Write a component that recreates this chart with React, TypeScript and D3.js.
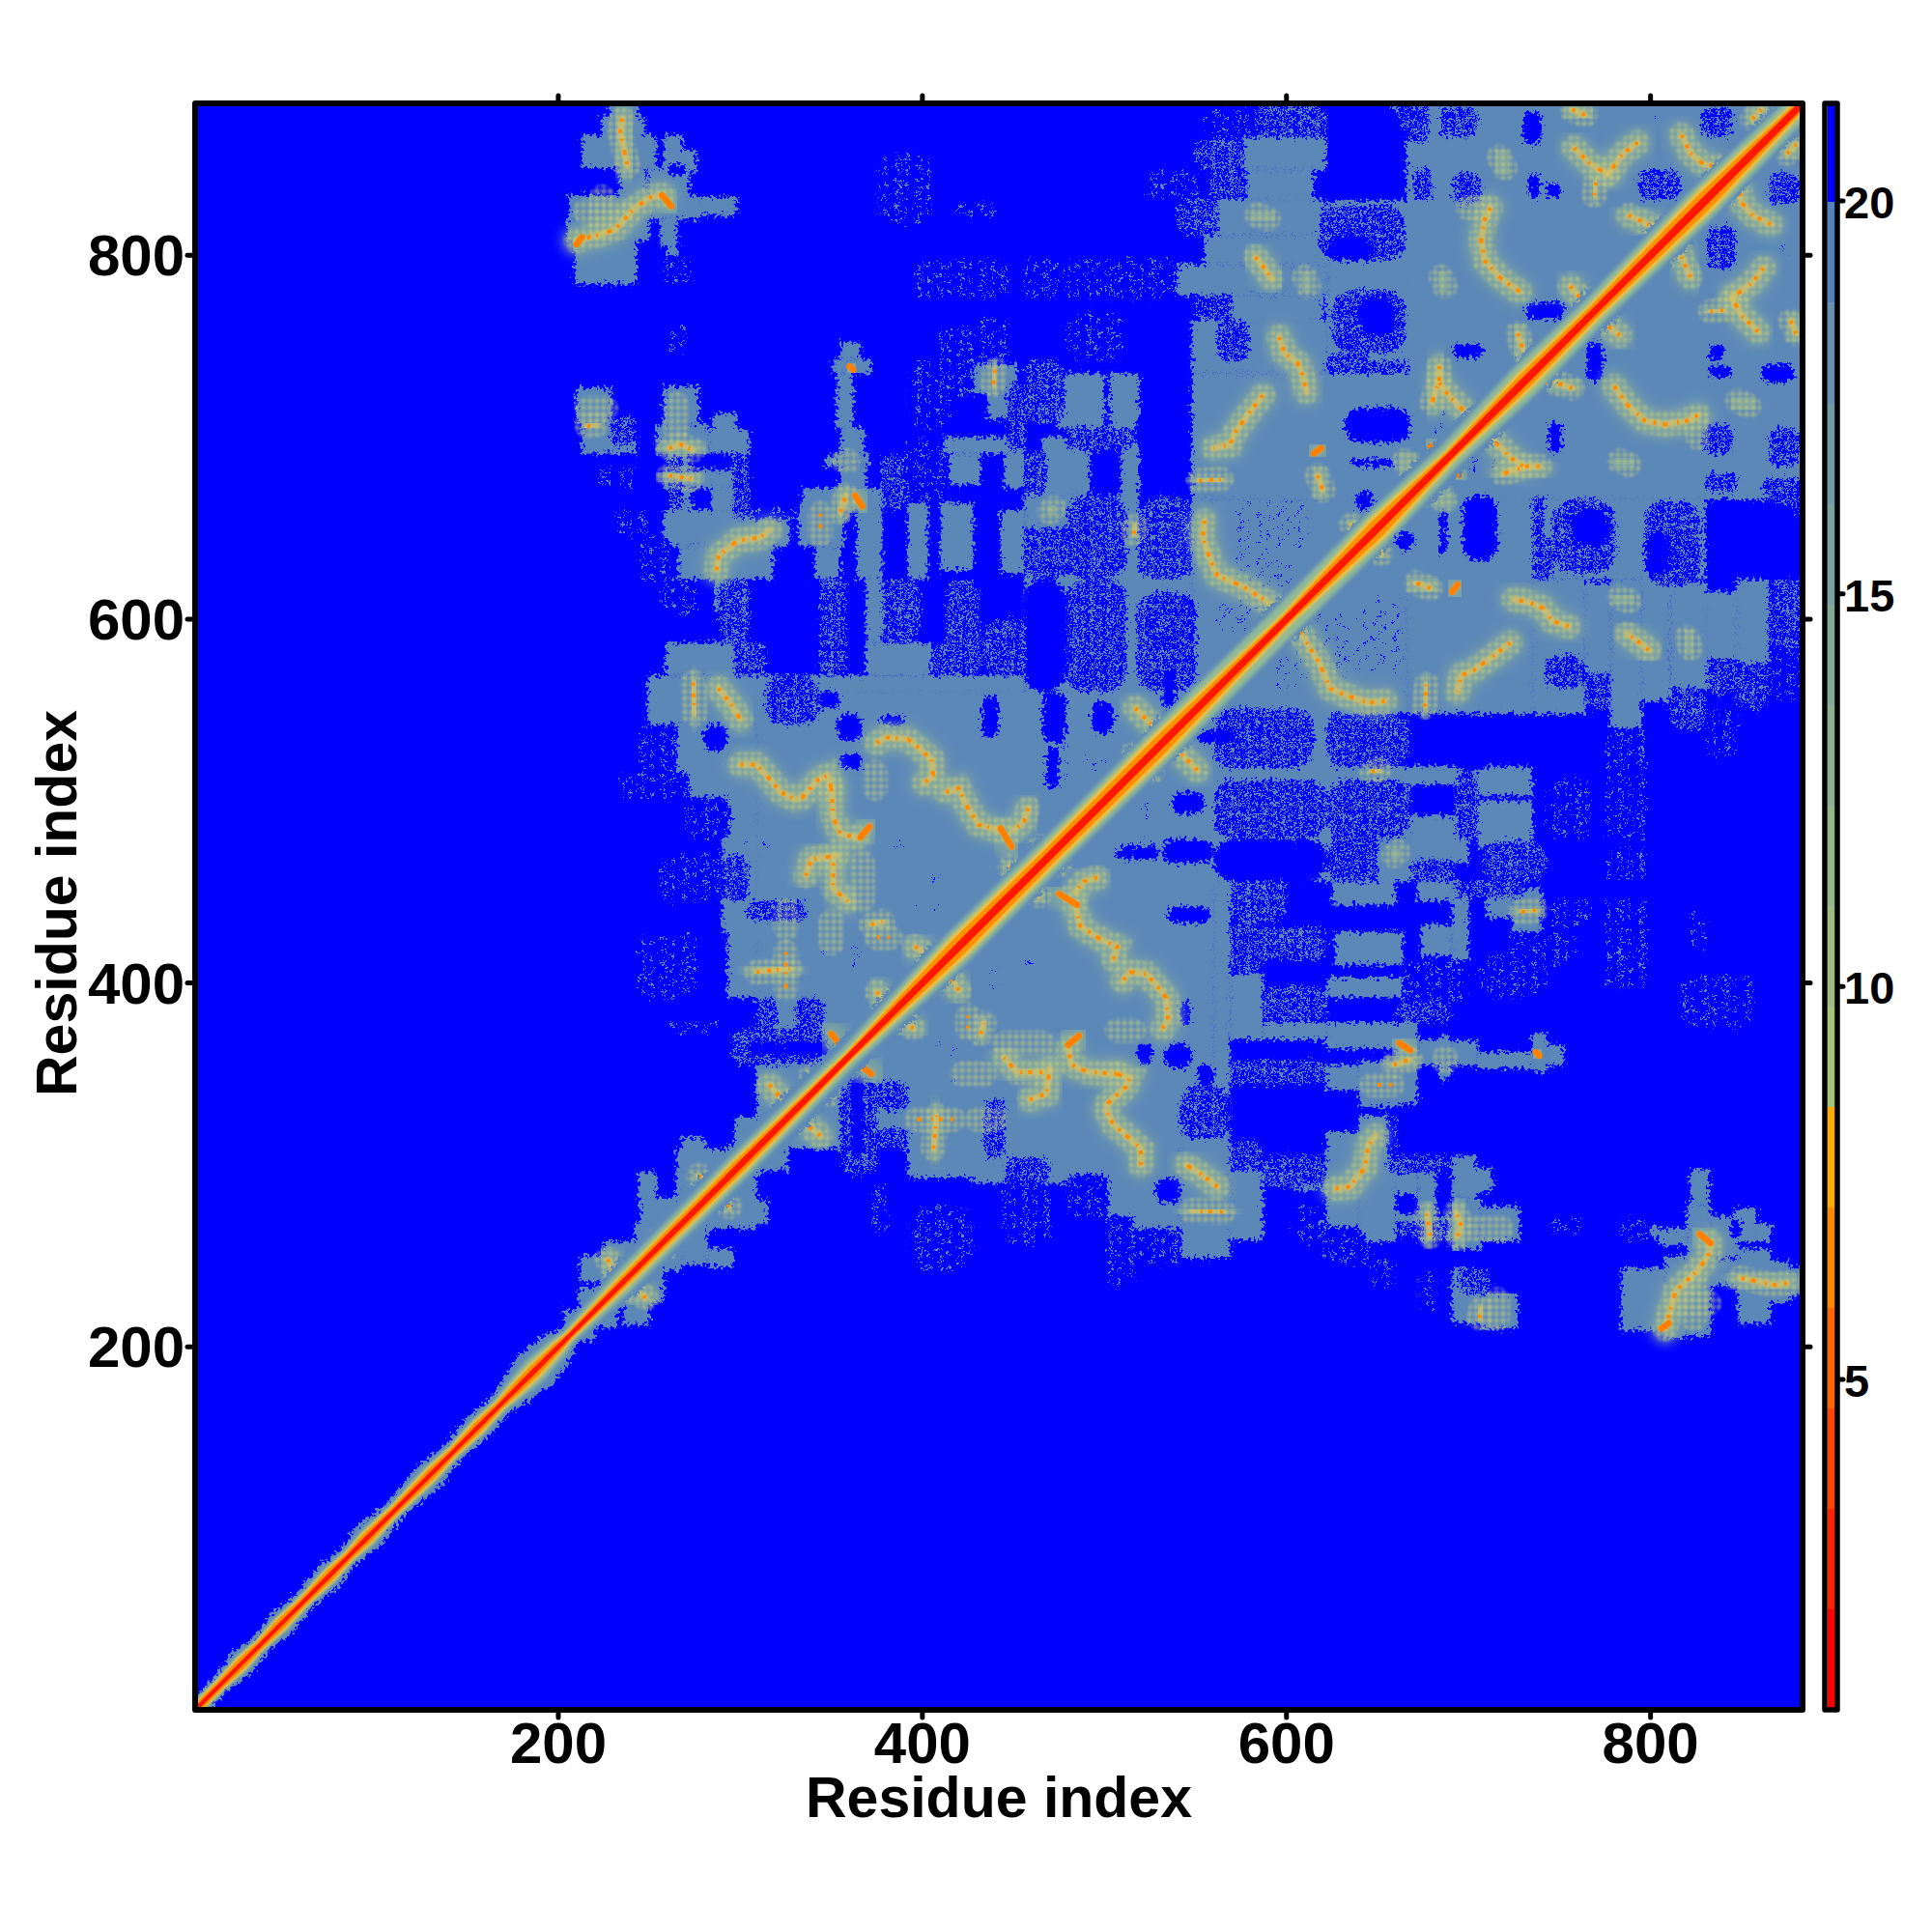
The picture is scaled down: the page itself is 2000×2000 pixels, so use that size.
import React from "react";
import * as d3 from "d3";

// ---------- values (residue coordinates, upper-left triangle; the map is symmetric) ----------
const axisTicks = [200, 400, 600, 800];
const colorbarTicks = [5, 10, 15, 20];
const colorbarBreaks = [0.8, 2.08, 3.36, 4.64, 5.92, 7.2, 8.47, 9.75, 11.03, 12.31, 13.59, 14.87, 16.15, 17.43, 18.71, 19.99, 21.24];
const colorbarColors = ["#ff0000", "#ff2200", "#ff4400", "#ff6600", "#ff8800", "#ffaa00", "#a5c27a", "#9dbc81", "#95b689", "#8caf90", "#83a898", "#7aa1a0", "#709aa8", "#668fb0", "#5282bd", "#0000ff"];

// [residue, steel, green, orange, red] : band size of the diagonal, as |x-y| in residues
const diagonalProfile = [
  [1, 7, 5.5, 3.2, 1.6], [15, 7, 5.5, 3.2, 1.6], [26, 11, 6.5, 4.2, 1.6], [36, 7.5, 5.5, 3.2, 1.6], [48, 11, 6.5, 4.2, 1.6], [60, 8, 5.5, 3.2, 1.6],
  [75, 11, 6.5, 4.2, 1.8], [85, 8, 5.5, 3.2, 1.6], [95, 12, 7, 4.2, 1.8], [110, 8, 5.5, 3.2, 1.6], [130, 12, 7, 4.2, 1.8], [142, 8, 5.5, 3.2, 1.6],
  [156, 11, 7, 4.2, 1.8], [168, 9, 6, 3.2, 1.6], [176, 13, 8, 4.2, 1.8], [187, 17, 10, 4.8, 2], [200, 14, 8, 3.8, 1.8], [206, 8, 5.5, 2.8, 1.6],
  [216, 10, 7, 3.2, 1.8], [235, 14, 9, 4, 2], [300, 16, 10, 5, 2.5], [360, 14, 8, 3.2, 2.2], [420, 16, 13, 7, 3], [470, 16, 12, 6, 3],
  [530, 16, 13, 7, 3], [600, 16, 12, 4, 2.6], [650, 16, 13, 7, 3], [690, 16, 10, 4, 2.6], [730, 16, 13, 6, 3], [770, 16, 11, 5, 2.6],
  [830, 16, 13, 7, 3.2], [883, 14, 10, 4, 2.6],
];

const steelRects = [
  [228, 244, 876, 884], [224, 247, 866, 876], [213, 254, 848, 866], [258, 276, 846, 858], [258, 268, 858, 866], [233, 248, 833, 848], [249, 272, 833, 848],
  [206, 278, 820, 833], [278, 298, 822, 832], [205, 250, 808, 820], [256, 265, 805, 820], [209, 243, 784, 808], [260, 266, 795, 805],
  [351, 372, 735, 743], [355, 366, 743, 752], [353, 362, 705, 735], [210, 229, 707, 727], [213, 243, 691, 707], [258, 277, 707, 728], [254, 282, 691, 707],
  [282, 305, 691, 704], [285, 298, 703, 713], [260, 272, 682, 691], [258, 305, 672, 682], [262, 273, 660, 672], [284, 296, 660, 672],
  [355, 368, 690, 705], [347, 371, 684, 690], [355, 369, 672, 684], [412, 456, 691, 700], [415, 432, 674, 691], [445, 456, 672, 691],
  [392, 403, 622, 664], [410, 428, 627, 664], [443, 456, 625, 660], [422, 452, 724, 740], [436, 447, 710, 724],
  [258, 327, 640, 660], [332, 357, 640, 662], [364, 378, 622, 668], [266, 318, 622, 640], [341, 355, 622, 640], [334, 378, 660, 672],
  [576, 622, 847, 865], [578, 615, 831, 847], [562, 620, 811, 831], [555, 622, 795, 811], [540, 622, 778, 795], [570, 620, 764, 778], [548, 622, 735, 764],
  [666, 885, 666, 885], [622, 666, 666, 830], [548, 666, 666, 735], [548, 666, 548, 666],
  [474, 500, 705, 735], [503, 519, 700, 735], [466, 492, 668, 700], [509, 519, 622, 700], [456, 470, 650, 672], [468, 508, 650, 668], [456, 548, 530, 625],
  [480, 560, 480, 560], [309, 560, 309, 560], [293, 309, 392, 542], [288, 309, 502, 516], [314, 456, 560, 569], [249, 314, 542, 569], [272, 293, 502, 542],
  [265, 279, 516, 542], [259, 297, 569, 587], [369, 405, 569, 587], [369, 378, 587, 622], [286, 300, 604, 625], [290, 309, 427, 480],
  [297, 309, 309, 326], [265, 309, 296, 309], [268, 281, 300, 315], [265, 296, 265, 296], [245, 268, 268, 282], [245, 265, 245, 268], [244, 254, 282, 296],
  [212, 225, 236, 250], [225, 250, 226, 258], [211, 232, 212, 232], [206, 220, 203, 216], [242, 262, 254, 268],
];

// areas that are mostly blue, with a few steel flecks
const sparseRects = [
  [258, 272, 784, 800], [376, 405, 817, 856], [417, 440, 822, 830], [396, 447, 776, 797], [410, 428, 720, 760], [392, 415, 705, 742], [390, 412, 664, 700],
  [430, 447, 740, 767], [218, 242, 672, 683], [232, 250, 645, 660], [245, 262, 620, 645], [262, 270, 745, 762], [305, 330, 655, 662],
  [555, 583, 866, 882], [523, 551, 831, 847], [479, 540, 775, 799], [456, 474, 775, 799], [480, 512, 742, 768], [258, 277, 602, 622],
  [245, 265, 516, 542], [235, 272, 502, 516], [256, 290, 445, 470], [241, 277, 392, 427], [262, 290, 372, 380], [270, 295, 480, 502],
];

// areas of about half blue, half steel
const mixedRects = [
  [229, 243, 695, 712], [261, 269, 660, 690], [296, 305, 655, 690], [378, 390, 660, 690], [447, 456, 693, 730], [583, 622, 866, 883], [649, 666, 866, 882],
  [558, 578, 831, 847], [550, 576, 847, 865], [540, 562, 811, 831], [550, 570, 764, 778], [562, 580, 742, 764], [456, 478, 708, 742], [479, 516, 693, 705],
  [456, 468, 668, 693], [456, 479, 622, 650], [479, 512, 622, 668], [520, 548, 622, 668], [288, 305, 587, 622], [344, 358, 569, 622], [378, 398, 587, 622],
  [413, 431, 569, 622], [297, 314, 569, 587], [406, 433, 569, 587], [314, 343, 542, 569], [304, 336, 434, 445], [295, 348, 355, 375], [433, 470, 569, 600],
  [290, 304, 445, 470], [309, 320, 374, 392], [330, 346, 374, 392], [618, 665, 797, 827], [625, 666, 746, 781], [622, 645, 735, 746], [640, 667, 735, 742],
  [666, 678, 862, 885], [670, 680, 830, 848], [684, 705, 865, 882], [691, 707, 829, 845], [828, 845, 865, 882], [793, 816, 831, 847], [479, 512, 560, 622], [518, 551, 560, 615],
];

// areas that are mostly steel, with a few blue flecks
const fleckRects = [
  [562, 580, 593, 609], [594, 602, 617, 634], [571, 611, 640, 664], [470, 479, 510, 532], [489, 500, 517, 525], [344, 347, 409, 423], [358, 367, 409, 420],
  [392, 413, 438, 441], [406, 415, 454, 459], [385, 390, 473, 478], [296, 318, 475, 478], [800, 806, 872, 880], [682, 687, 700, 720], [600, 640, 570, 590],
];

const holeRects = [
  [224, 234, 834, 847], [260, 270, 844, 850], [622, 665, 830, 885], [730, 740, 861, 879], [731, 753, 765, 774], [632, 668, 697, 716], [638, 648, 660, 670],
  [636, 659, 684, 688], [692, 708, 744, 751], [733, 739, 832, 845], [742, 751, 832, 840], [516, 548, 693, 712], [493, 509, 668, 693], [456, 479, 560, 622],
  [466, 479, 532, 560], [493, 505, 537, 555], [532, 539, 551, 572], [279, 293, 528, 542], [343, 355, 551, 560], [353, 367, 533, 548], [377, 390, 542, 547],
  [433, 442, 535, 558], [355, 367, 518, 526], [468, 475, 507, 530], [305, 325, 360, 368], [325, 348, 360, 368], [624, 647, 797, 811], [640, 660, 756, 778],
];

const faintContacts = [
  [[215, 824], [236, 824]], [[224, 815], [224, 832]], [[265, 718], [265, 704]], [[216, 716], [226, 716]], [[610, 788], [612, 783]], [[584, 822], [590, 820]],
  [[470, 659], [472, 661]], [[374, 516], [374, 507]], [[367, 466], [367, 445]], [[350, 434], [350, 422]], [[717, 854], [720, 848]], [[685, 788], [687, 783]],
  [[665, 687], [670, 679]], [[357, 687], [359, 687]], [[516, 526], [522, 522]], [[700, 826], [708, 826]], [[325, 430], [325, 440]],
];
const mediumContacts = [
  [[235, 875], [234, 868], [237, 854], [238, 849]], [[210, 808], [221, 811], [231, 814], [242, 826], [251, 832], [257, 833]], [[216, 706], [221, 707]],
  [[261, 694], [267, 696], [274, 693]], [[261, 679], [273, 677]], [[440, 737], [439, 729]], [[355, 659], [358, 668]], [[344, 658], [344, 647]],
  [[287, 627], [288, 635], [295, 640], [298, 643], [311, 645], [316, 649]], [[274, 565], [275, 548]], [[288, 562], [295, 553], [300, 545]],
  [[300, 520], [309, 520], [318, 510], [322, 505], [330, 501], [334, 502], [343, 512], [348, 514], [350, 507]], [[350, 507], [351, 491], [355, 482], [364, 480]],
  [[336, 459], [339, 468], [353, 470]], [[351, 466], [351, 452], [359, 445]], [[375, 532], [380, 535], [392, 534], [397, 530], [405, 523], [406, 514], [401, 510]],
  [[413, 505], [420, 507], [424, 498], [431, 487], [442, 484]], [[458, 496], [456, 489], [450, 484]], [[372, 432], [378, 434]], [[375, 425], [382, 425]],
  [[396, 420], [403, 415], [408, 409]], [[325, 417], [325, 408], [325, 397]], [[309, 406], [327, 408]], [[375, 395], [381, 388], [378, 381]],
  [[227, 248], [229, 245], [233, 236]], [[316, 344], [322, 337], [327, 330]], [[339, 349], [343, 344]], [[254, 259], [263, 262]], [[277, 294], [282, 292]],
  [[583, 799], [587, 794], [592, 787]], [[596, 755], [599, 746], [606, 741], [609, 734], [611, 725]], [[587, 723], [580, 714], [572, 703], [569, 696], [560, 694]],
  [[617, 679], [620, 671]], [[552, 676], [564, 677]], [[516, 647], [517, 651]], [[555, 654], [554, 645], [558, 633], [562, 624], [576, 618], [592, 608], [599, 602]],
  [[636, 652], [640, 647]], [[684, 739], [684, 732], [680, 719]], [[684, 730], [689, 723], [696, 716], [703, 709]], [[712, 826], [709, 820], [707, 808], [709, 797], [717, 788], [728, 780]],
  [[757, 880], [764, 877]], [[758, 859], [767, 850], [776, 845]], [[793, 862], [785, 856], [777, 845]], [[770, 840], [769, 833]], [[817, 866], [822, 856], [829, 850], [836, 849]],
  [[856, 875], [861, 880]], [[788, 822], [799, 817], [806, 815]], [[756, 783], [765, 772], [769, 769]], [[727, 757], [730, 748]], [[517, 551], [528, 540], [532, 537]],
  [[448, 464], [454, 459]], [[465, 475], [466, 469]],
];
const strongContacts = [
  [[360, 739], [362, 737]], [[363, 668], [367, 662]], [[443, 485], [449, 475]], [[366, 480], [371, 486]], [[350, 372], [358, 362]], [[615, 691], [619, 694]],
  [[679, 695], [683, 688]], [[806, 815], [810, 811]], [[730, 742], [736, 736]], [[257, 833], [262, 827]], [[210, 806], [213, 810]],
];

// ---------- layout ----------
const left = 202, right = 1866, top = 107, bottom = 1770;
const x = d3.scaleLinear().domain([0.5, 883.5]).range([left, right]);
const y = d3.scaleLinear().domain([0.5, 883.5]).range([bottom, top]);
const barY = d3.scaleLinear().domain([5, 20]).range([1428, 208]);
const STEEL = "#5c88b8";
const BLUE = "#0000ff";
const FONT = "'Liberation Sans', Arial, sans-serif";
const line = d3.line<number[]>().x((d) => x(d[0])).y((d) => y(d[1]));

function band(col: number, k = 1): string {
  const a = diagonalProfile.map((r) => [r[0] + (r[col] * k) / 2, r[0] - (r[col] * k) / 2]);
  const b = diagonalProfile.map((r) => [r[0] - (r[col] * k) / 2, r[0] + (r[col] * k) / 2]).reverse();
  return (line([...a, ...b]) as string) + "Z";
}
const mirror = (p: number[][]) => p.map(([a, b]) => [b, a]);
const both = (list: number[][][]) => list.flatMap((p) => [p, mirror(p)]);

function Rects({ list, fill, round = 0 }: { list: number[][]; fill: string; round?: number }) {
  const all = list.flatMap(([a, b, c, d]) => [[a, b, c, d], [c, d, a, b]]);
  return (
    <g>
      {all.map(([a, b, c, d], i) => {
        const w = x(b) - x(a), h = y(c) - y(d);
        const r = Math.min(w, h) * round;
        return <rect key={i} x={x(a)} y={y(d)} width={w} height={h} rx={r} ry={r} fill={fill} />;
      })}
    </g>
  );
}

export default function App() {
  const tickStyle = { stroke: "#000", strokeWidth: 5, strokeLinecap: "round" as const };
  return (
    <svg width={2000} height={2000} viewBox="0 0 2000 2000" style={{ position: "absolute", left: 0, top: 0, background: "#fff" }}>
      <defs>
        <clipPath id="panel"><rect x={left} y={top} width={right - left} height={bottom - top} /></clipPath>
        <pattern id="sparse" width={22} height={14} patternUnits="userSpaceOnUse">
          <rect width={22} height={14} fill={BLUE} />
          <rect x={1} y={3} width={7} height={2} fill={STEEL} />
          <rect x={14} y={7} width={2} height={6} fill={STEEL} />
          <rect x={5} y={10} width={4} height={2} fill={STEEL} />
        </pattern>
        <pattern id="mixed" width={18} height={12} patternUnits="userSpaceOnUse">
          <rect width={18} height={12} fill={BLUE} />
          <rect x={0} y={2} width={12} height={2} fill={STEEL} />
          <rect x={4} y={4} width={2} height={6} fill={STEEL} />
          <rect x={9} y={7} width={7} height={2} fill={STEEL} />
          <rect x={14} y={0} width={2} height={12} fill={STEEL} />
          <rect x={0} y={9} width={3} height={2} fill={STEEL} />
        </pattern>
        <pattern id="flecks" width={20} height={16} patternUnits="userSpaceOnUse">
          <rect x={2} y={3} width={3} height={2} fill={BLUE} />
          <rect x={12} y={8} width={2} height={3} fill={BLUE} />
          <rect x={6} y={13} width={2} height={2} fill={BLUE} />
        </pattern>
        <pattern id="plaid" width={7} height={7} patternUnits="userSpaceOnUse">
          <rect x={0} y={0} width={4} height={4} fill="#c5cc78" />
          <rect x={4} y={0} width={3} height={4} fill="#8fb09a" opacity={0.55} />
          <rect x={0} y={4} width={4} height={3} fill="#8fb09a" opacity={0.55} />
        </pattern>
        <filter id="rough" filterUnits="userSpaceOnUse" x={left - 20} y={top - 20} width={right - left + 40} height={bottom - top + 40}>
          <feTurbulence type="fractalNoise" baseFrequency={0.28} numOctaves={2} seed={7} />
          <feDisplacementMap in="SourceGraphic" scale={16} xChannelSelector="R" yChannelSelector="G" />
        </filter>
        <filter id="soft6" x="-60%" y="-60%" width="220%" height="220%"><feGaussianBlur stdDeviation={6} /></filter>
        <filter id="soft2" x="-40%" y="-40%" width="180%" height="180%"><feGaussianBlur stdDeviation={2} /></filter>
        <filter id="soft1" x="-40%" y="-40%" width="180%" height="180%"><feGaussianBlur stdDeviation={1} /></filter>
      </defs>

      <g clipPath="url(#panel)">
        <rect x={left} y={top} width={right - left} height={bottom - top} fill={BLUE} />
        <g filter="url(#rough)">
          <Rects list={steelRects} fill={STEEL} />
          <Rects list={sparseRects} fill="url(#sparse)" round={0.3} />
          <Rects list={mixedRects} fill="url(#mixed)" round={0.35} />
          <Rects list={fleckRects} fill="url(#flecks)" round={0.3} />
          <Rects list={holeRects} fill={BLUE} round={0.45} />
        </g>

        {both([...faintContacts, ...mediumContacts, ...strongContacts]).map((p, i) => (
          <path key={i} d={line(p) as string} fill="none" stroke="#86ab9e" strokeOpacity={0.75} strokeWidth={30} strokeLinecap="round" filter="url(#soft6)" />
        ))}
        <g filter="url(#soft1)">
          {both([...faintContacts, ...mediumContacts]).map((p, i) => (
            <path key={i} d={line(p) as string} fill="none" stroke="url(#plaid)" strokeOpacity={0.6} strokeWidth={26} strokeLinecap="round" />
          ))}
        </g>
        {both([...mediumContacts, ...strongContacts]).map((p, i) => (
          <path key={i} d={line(p) as string} fill="none" stroke="#dcc25e" strokeOpacity={0.7} strokeWidth={7} strokeLinecap="round" filter="url(#soft1)" />
        ))}
        {both(mediumContacts).map((p, i) => (
          <path key={i} d={line(p) as string} fill="none" stroke="#ff8a00" strokeWidth={4} strokeDasharray="3 8 4 6 2 10 5 7" />
        ))}
        {both(strongContacts).map((p, i) => (
          <path key={i} d={line(p) as string} fill="none" stroke="#ff8000" strokeWidth={6.5} strokeLinecap="round" />
        ))}

        <path d={band(1)} fill={STEEL} filter="url(#rough)" />
        <path d={band(2)} fill="#93bb96" filter="url(#soft2)" />
        <path d={band(3, 1.4)} fill="#e6c04c" filter="url(#soft1)" />
        <path d={band(3)} fill="#ff9000" />
        <path d={band(4)} fill="#ff1800" />
      </g>

      {axisTicks.map((t) => (
        <g key={t}>
          <line x1={x(t)} x2={x(t)} y1={top} y2={top - 8} {...tickStyle} />
          <line x1={x(t)} x2={x(t)} y1={bottom} y2={bottom + 8} {...tickStyle} />
          <line x1={left} x2={left - 8} y1={y(t)} y2={y(t)} {...tickStyle} />
          <line x1={right} x2={right + 8} y1={y(t)} y2={y(t)} {...tickStyle} />
          <text x={x(t)} y={1825} textAnchor="middle" fontFamily={FONT} fontWeight={700} fontSize={60}>{t}</text>
          <text x={191} y={y(t) + 21} textAnchor="end" fontFamily={FONT} fontWeight={700} fontSize={60}>{t}</text>
        </g>
      ))}
      <rect x={left} y={top} width={right - left} height={bottom - top} fill="none" stroke="#000" strokeWidth={6} strokeLinejoin="round" />
      <text x={1034} y={1881} textAnchor="middle" fontFamily={FONT} fontWeight={700} fontSize={59}>Residue index</text>
      <text transform="translate(79,935) rotate(-90)" textAnchor="middle" fontFamily={FONT} fontWeight={700} fontSize={59}>Residue index</text>

      {colorbarColors.map((c, i) => (
        <rect key={i} x={1892} width={8} y={i === 15 ? top : barY(colorbarBreaks[i + 1])}
          height={(i === 15 ? barY(colorbarBreaks[15]) - top : barY(colorbarBreaks[i]) - barY(colorbarBreaks[i + 1])) + 0.5}
          fill={c} shapeRendering="crispEdges" />
      ))}
      <rect x={1889} y={top} width={13} height={bottom - top} fill="none" stroke="#000" strokeWidth={5.5} strokeLinejoin="round" />
      {colorbarTicks.map((t) => (
        <g key={t}>
          <line x1={1903} x2={1908} y1={barY(t)} y2={barY(t)} {...tickStyle} />
          <text x={1909} y={barY(t) + 18} fontFamily={FONT} fontWeight={700} fontSize={47}>{t}</text>
        </g>
      ))}
    </svg>
  );
}
